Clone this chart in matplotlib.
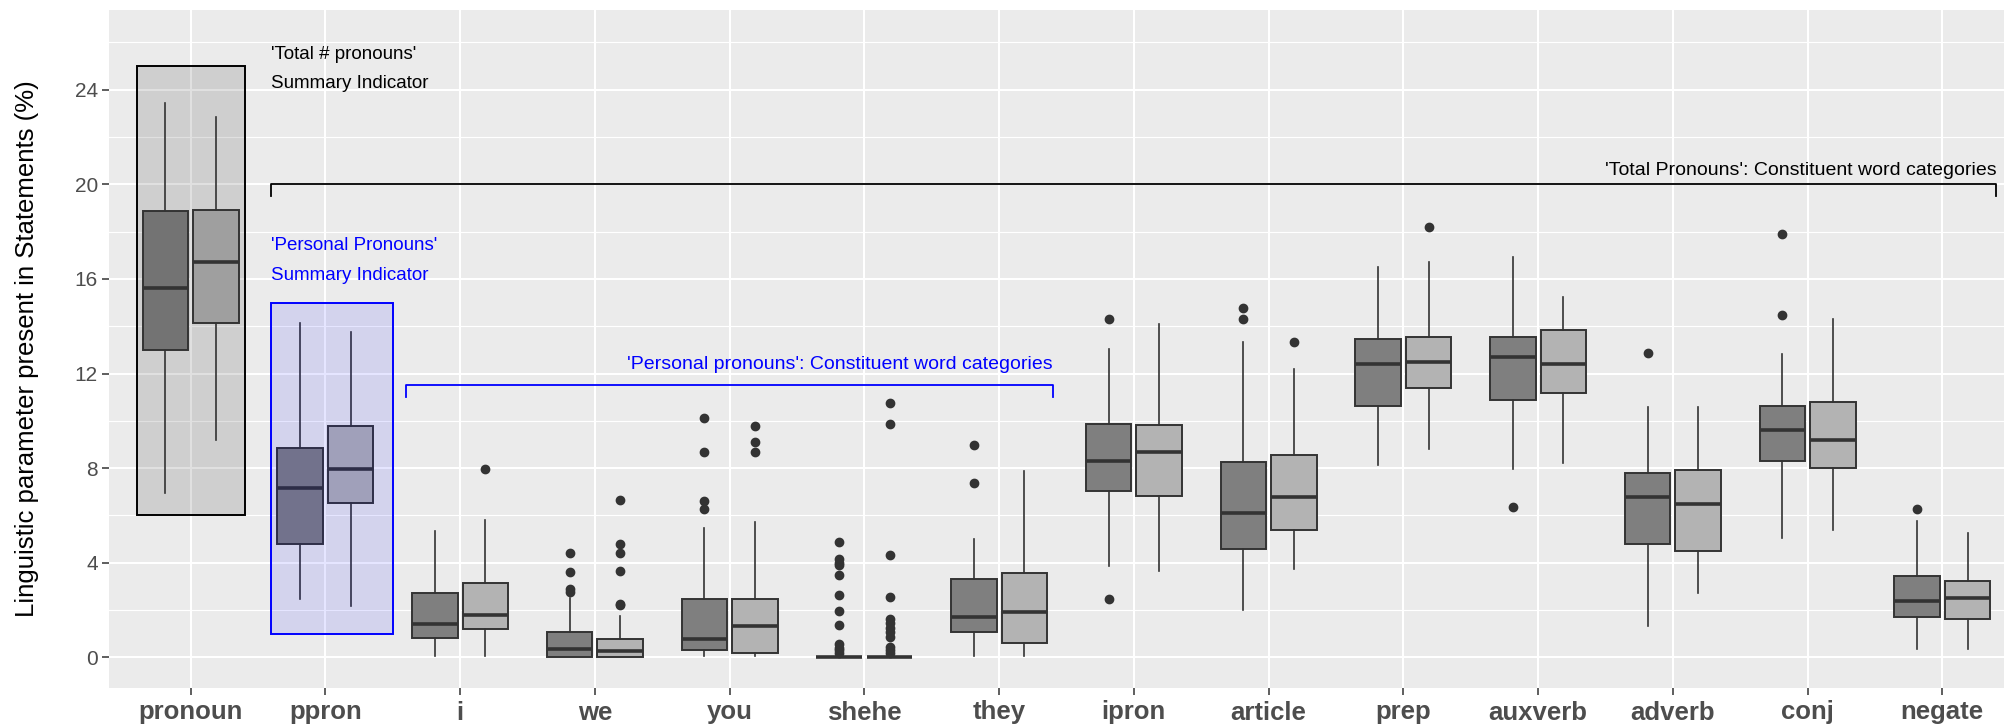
import numpy as np
import matplotlib.pyplot as plt
from matplotlib.patches import Rectangle

categories = ["pronoun", "ppron", "i", "we", "you", "shehe", "they",
              "ipron", "article", "prep", "auxverb", "adverb", "conj", "negate"]

# group A (dark boxes)
a_whislo = [6.93, 2.46, 0.05, 0.0, 0.05, 0.0, 0.05, 3.87, 2.0, 8.14, 7.97, 1.33, 5.06, 0.35]
a_q1 = [13.0, 4.8, 0.82, 0.0, 0.31, 0.0, 1.06, 7.04, 4.57, 10.63, 10.87, 4.78, 8.29, 1.72]
a_med = [15.61, 7.15, 1.41, 0.35, 0.79, 0.0, 1.69, 8.28, 6.12, 12.40, 12.69, 6.78, 9.62, 2.36]
a_q3 = [18.86, 8.83, 2.70, 1.06, 2.47, 0.0, 3.29, 9.87, 8.24, 13.47, 13.54, 7.79, 10.62, 3.44]
a_whishi = [23.44, 14.15, 5.34, 2.52, 5.48, 0.0, 5.01, 13.04, 13.34, 16.49, 16.94, 10.58, 12.82, 5.78]
a_outliers = [[], [], [], [4.42, 3.59, 2.9, 2.75],
              [10.1, 8.7, 6.61, 6.29],
              [4.86, 4.15, 4.0, 3.9, 3.47, 2.65, 1.97, 1.37, 0.56, 0.4, 0.3, 0.17],
              [8.97, 7.36], [14.3, 2.47], [14.75, 14.3], [], [6.36], [12.88],
              [17.88, 14.46], [6.29]]

# group B (light boxes)
b_whislo = [9.17, 2.16, 0.05, 0.0, 0.05, 0.0, 0.05, 3.65, 3.74, 8.82, 8.21, 2.74, 5.37, 0.35]
b_q1 = [14.12, 6.52, 1.18, 0.0, 0.17, 0.0, 0.59, 6.80, 5.40, 11.38, 11.16, 4.50, 8.0, 1.64]
b_med = [16.73, 7.96, 1.78, 0.27, 1.32, 0.0, 1.91, 8.66, 6.78, 12.48, 12.40, 6.49, 9.17, 2.51]
b_q3 = [18.93, 9.80, 3.14, 0.76, 2.47, 0.0, 3.58, 9.82, 8.55, 13.54, 13.84, 7.93, 10.79, 3.22]
b_whishi = [22.83, 13.77, 5.79, 1.75, 5.71, 0.0, 7.86, 14.1, 12.21, 16.71, 15.22, 10.58, 14.32, 5.26]
b_outliers = [[], [], [7.95], [6.67, 4.8, 4.41, 3.66, 2.25, 2.2],
              [9.79, 9.12, 8.68],
              [10.76, 9.86, 4.34, 2.56, 1.64, 1.45, 1.25, 1.05, 0.87, 0.45, 0.3, 0.2],
              [], [], [13.33], [18.19], [], [], [], []]


def box_stats(whislo, q1, med, q3, whishi, outliers):
    return [dict(whislo=lo, q1=a, med=m, q3=b, whishi=hi, fliers=fl)
            for lo, a, m, b, hi, fl in zip(whislo, q1, med, q3, whishi, outliers)]


plt.rcParams["font.family"] = ["Liberation Sans", "DejaVu Sans"]

fig = plt.figure(figsize=(20.09, 7.28), dpi=100)
ax = fig.add_axes([109 / 2009, 40 / 728, 1895 / 2009, 678 / 728])
ax.set_facecolor("#ebebeb")

x = np.arange(len(categories))
BOX_W = 0.3375
OFFSET = 0.1875

groups = [
    (box_stats(a_whislo, a_q1, a_med, a_q3, a_whishi, a_outliers), x - OFFSET, "#7f7f7f"),
    (box_stats(b_whislo, b_q1, b_med, b_q3, b_whishi, b_outliers), x + OFFSET, "#b3b3b3"),
]
for stats, pos, fill in groups:
    ax.bxp(stats, positions=pos, widths=BOX_W, patch_artist=True, showcaps=False,
           boxprops=dict(facecolor=fill, edgecolor="#333333", linewidth=1.4),
           medianprops=dict(color="#333333", linewidth=2.6),
           whiskerprops=dict(color="#333333", linewidth=1.2),
           flierprops=dict(marker="o", markerfacecolor="#333333",
                           markeredgecolor="#333333", markersize=6),
           manage_ticks=False)

# summary indicator frames
ax.add_patch(Rectangle((-0.4, 6), 0.8, 19, facecolor="#333333", alpha=0.15,
                       edgecolor="none", zorder=4))
ax.add_patch(Rectangle((-0.4, 6), 0.8, 19, facecolor="none", edgecolor="black",
                       lw=1.4, zorder=4))
ax.add_patch(Rectangle((0.6, 1), 0.9, 14, facecolor="blue", alpha=0.1,
                       edgecolor="none", zorder=4))
ax.add_patch(Rectangle((0.6, 1), 0.9, 14, facecolor="none", edgecolor="blue",
                       lw=1.4, zorder=4))

# brackets over the constituent categories
ax.plot([0.6, 0.6, 13.4, 13.4], [19.5, 20, 20, 19.5], color="black", lw=1.3, zorder=4)
ax.plot([1.6, 1.6, 6.4, 6.4], [11.0, 11.5, 11.5, 11.0], color="blue", lw=1.3, zorder=4)

fs = 13.5
ax.text(0.6, 25.5, "'Total # pronouns'", ha="left", va="center", fontsize=fs)
ax.text(0.6, 24.25, "Summary Indicator", ha="left", va="center", fontsize=fs)
ax.text(0.6, 17.4, "'Personal Pronouns'", ha="left", va="center", fontsize=fs, color="blue")
ax.text(0.6, 16.15, "Summary Indicator", ha="left", va="center", fontsize=fs, color="blue")
ax.text(13.4, 20.6, "'Total Pronouns': Constituent word categories",
        ha="right", va="center", fontsize=14)
ax.text(6.4, 12.38, "'Personal pronouns': Constituent word categories",
        ha="right", va="center", fontsize=14, color="blue")

ax.set_xlim(-0.606, 13.458)
ax.set_ylim(-1.298, 27.37)
ax.set_xticks(x)
ax.set_xticklabels(categories, fontsize=18.5, fontweight="bold", color="#4d4d4d")
ax.set_yticks(np.arange(0, 25, 4))
ax.set_yticks(np.arange(2, 27, 4), minor=True)
ax.tick_params(axis="y", which="major", labelsize=15, labelcolor="#4d4d4d",
               color="#333333", length=5, width=1.1, pad=3)
ax.tick_params(axis="x", which="major", color="#333333", length=5, width=1.1, pad=4)
ax.tick_params(which="minor", length=0)

ax.set_axisbelow(True)
ax.grid(which="major", color="white", lw=1.5)
ax.grid(which="minor", axis="y", color="white", lw=0.8)
for s in ax.spines.values():
    s.set_visible(False)

fig.text(27.5 / 2009, 1 - 349 / 728, "Linguistic parameter present in Statements (%)",
         rotation=90, ha="center", va="center", fontsize=18.5, color="black")

fig.savefig("out.png", dpi=100)
